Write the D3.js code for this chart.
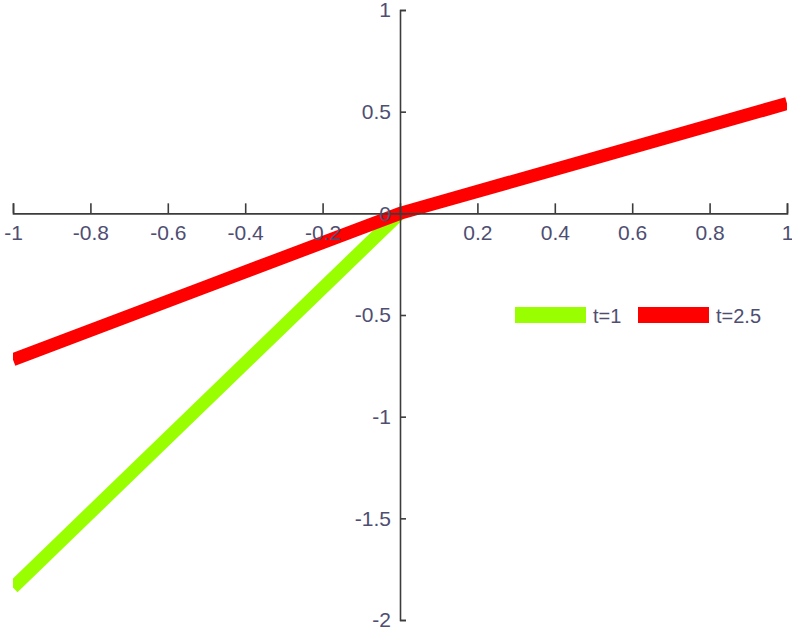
<!DOCTYPE html>
<html><head><meta charset="utf-8">
<script src="https://cdn.jsdelivr.net/npm/d3@7"></script>
<style>html,body{margin:0;padding:0;background:#fff;}svg{display:block;}</style>
</head><body>
<svg id="chart" width="792" height="628"></svg>
<script>
// Data
const seriesNames = ["t=1", "t=2.5"];
const seriesColors = ["#99ff00", "#ff0000"];
const greenX = [-1, -0.5, 0];
const greenY = [-1.84, -0.92, 0];
const redX = [-1, -0.5, 0, 0.5, 1];
const redY = [-0.72, -0.36, 0, 0.27, 0.54];
const xTicks = [-1, -0.8, -0.6, -0.4, -0.2, 0, 0.2, 0.4, 0.6, 0.8, 1];
const yTicks = [1, 0.5, 0, -0.5, -1, -1.5, -2];

const svg = d3.select("#chart");
const x = d3.scaleLinear().domain([-1, 1]).range([13, 787]);
const y = d3.scaleLinear().domain([-2, 1]).range([620, 10]);

const fmt = d => String(+d.toFixed(1));
const axisColor = "#3c3c3c";
const textColor = "#4e4e72";
const font = "'Liberation Sans', Arial, sans-serif";

// Lines (drawn first, axes over them)
const line = d3.line().x(d => x(d[0])).y(d => y(d[1]));
const clip = svg.append("clipPath").attr("id", "clip").append("rect")
  .attr("x", x(-1)).attr("y", 0).attr("width", x(1) - x(-1)).attr("height", 628);
const gLines = svg.append("g").attr("clip-path", "url(#clip)");
const series = [
  greenX.map((v, i) => [v, greenY[i]]),
  redX.map((v, i) => [v, redY[i]])
];
series.forEach((s, i) => {
  gLines.append("path").datum(s).attr("d", line)
    .attr("fill", "none").attr("stroke", seriesColors[i])
    .attr("stroke-width", 13).attr("stroke-linecap", "butt");
});

// X axis at y=0
const xAxis = d3.axisBottom(x).tickValues(xTicks)
  .tickFormat(d => d === 0 ? "" : fmt(d))
  .tickSizeInner(-10).tickSizeOuter(-10).tickPadding(12);
const gx = svg.append("g").attr("transform", `translate(0,${y(0)})`).call(xAxis);

// Y axis at x=0
const yAxis = d3.axisLeft(y).tickValues(yTicks)
  .tickFormat(fmt)
  .tickSizeInner(-6).tickSizeOuter(-6).tickPadding(9);
const gy = svg.append("g").attr("transform", `translate(${x(0)},0)`).call(yAxis);

[gx, gy].forEach(g => {
  g.selectAll("path.domain").attr("stroke", axisColor).attr("stroke-width", 1.6);
  g.selectAll(".tick line").attr("stroke", axisColor).attr("stroke-width", 1.6);
  g.selectAll(".tick text").attr("fill", textColor)
    .attr("font-family", font).attr("font-size", 21);
});

// Legend
const legend = svg.append("g");
const legX = [515, 638];
seriesNames.forEach((n, i) => {
  legend.append("rect").attr("x", legX[i]).attr("y", 307).attr("width", 71).attr("height", 16)
    .attr("fill", seriesColors[i]);
  legend.append("text").attr("x", legX[i] + 78).attr("y", 316).attr("dy", "0.35em")
    .attr("fill", textColor).attr("font-family", font).attr("font-size", 20).text(n);
});
</script>
</body></html>
